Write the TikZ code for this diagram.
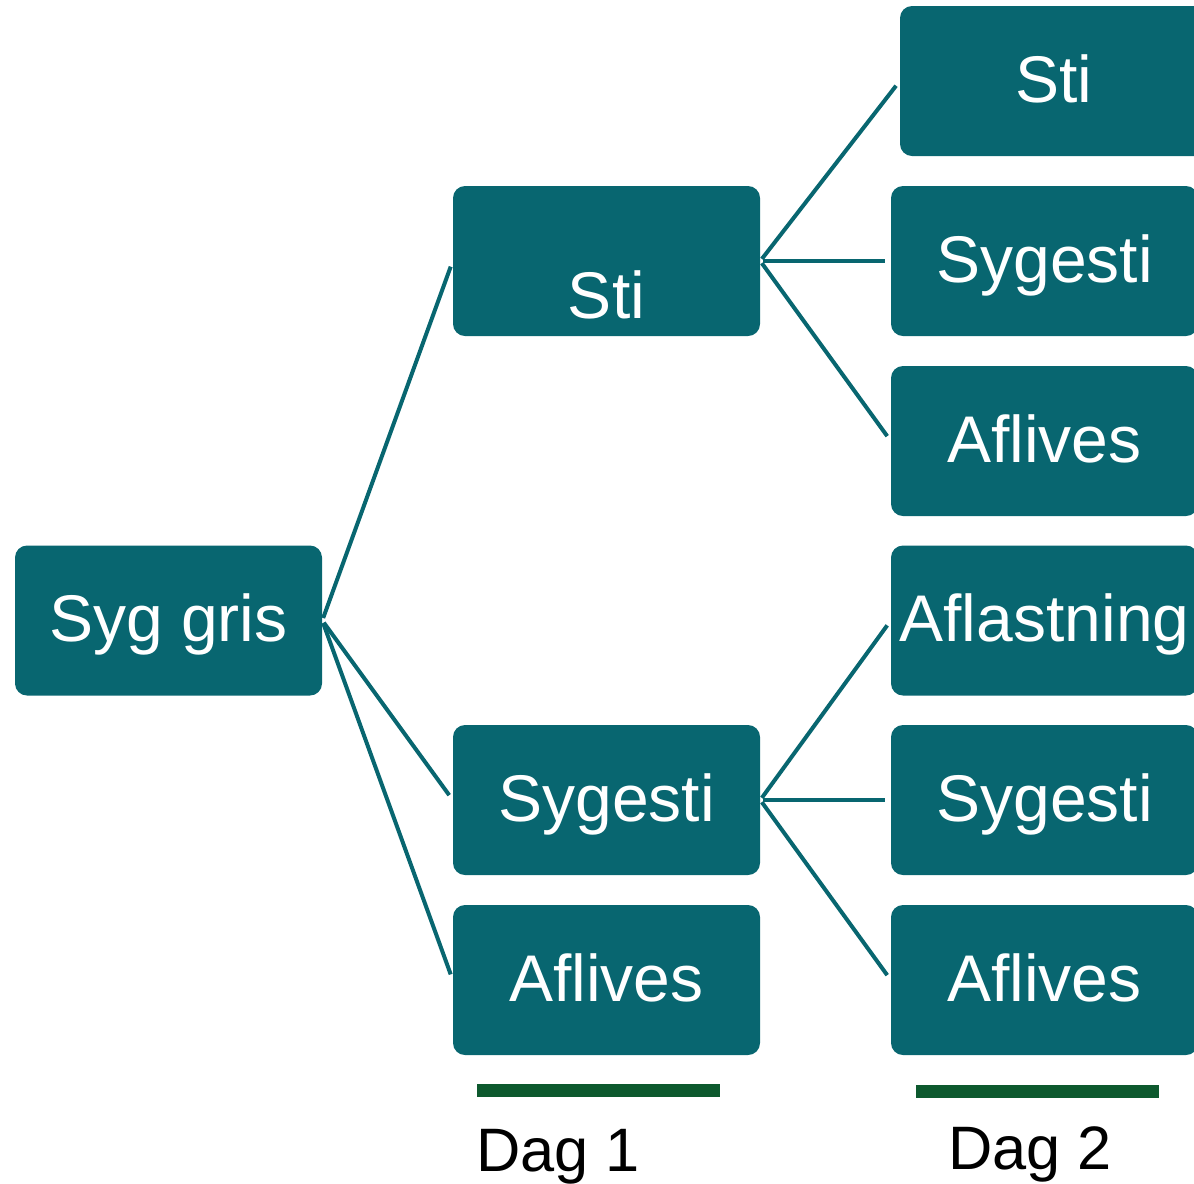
\documentclass[tikz,border=0pt]{standalone}
\usepackage{fontspec}
\setmainfont{Liberation Sans}
\usetikzlibrary{positioning}
\definecolor{mteal}{rgb}{0.03, 0.4, 0.44}
\definecolor{mgreen}{rgb}{0.05, 0.35, 0.18}
\tikzset{box/.style = {fill = mteal, rounded corners = 9pt, inner sep = 0,
    minimum width = 230.25pt, minimum height = 112.5pt, text = white,
    font = \fontsize{49.5}{55}\selectfont, text height = 35pt, text depth = 3.5pt}}
\tikzset{link/.style = {mteal, line width = 3pt, shorten < = 2pt, shorten > = 4.5pt}}
\tikzset{dagbar/.style = {mgreen, line width = 9.75pt}}
\tikzset{daglabel/.style = {anchor = base, inner sep = 0, font = \fontsize{46}{52}\selectfont}}

\begin{document}
\begin{tikzpicture}[x = 0.75pt, y = -0.75pt]
      \useasboundingbox (0, 0) rectangle (1194, 1183);
      \begin{scope}
      \clip (0, 0) rectangle (1194, 1183);

      \node [box] (gris) at (168.5, 620.5) {Syg gris};

      \node [box, text height = 89pt] (sti1) at (606.5, 261) {Sti};
      \node [box] (syge1) at (606.5, 800) {Sygesti};
      \node [box] (aflives1) at (606.5, 980) {Aflives};

      \node [box] (sti2) at (1053.5, 81) {Sti};
      \node [box] (syge2) at (1044.5, 261) {Sygesti};
      \node [box] (aflives2) at (1044.5, 441) {Aflives};
      \node [box] (aflast3) at (1044.5, 620.5) {Aflastning};
      \node [box] (syge3) at (1044.5, 800) {Sygesti};
      \node [box] (aflives3) at (1044.5, 980) {Aflives};
      \end{scope}

      \draw [link] (gris.east) -- (sti1.west);
      \draw [link] (gris.east) -- (syge1.west);
      \draw [link] (gris.east) -- (aflives1.west);

      \draw [link] (sti1.east) -- (sti2.west);
      \draw [link] (sti1.east) -- (syge2.west);
      \draw [link] (sti1.east) -- (aflives2.west);

      \draw [link] (syge1.east) -- (aflast3.west);
      \draw [link] (syge1.east) -- (syge3.west);
      \draw [link] (syge1.east) -- (aflives3.west);

      \draw [dagbar] (477, 1090.5) -- (720, 1090.5);
      \draw [dagbar] (916, 1091) -- (1159, 1091);
      \node [daglabel] (dag1) at (558, 1171) {Dag 1};
      \node [daglabel] (dag2) at (1030, 1169) {Dag 2};
    \end{tikzpicture}
\end{document}
